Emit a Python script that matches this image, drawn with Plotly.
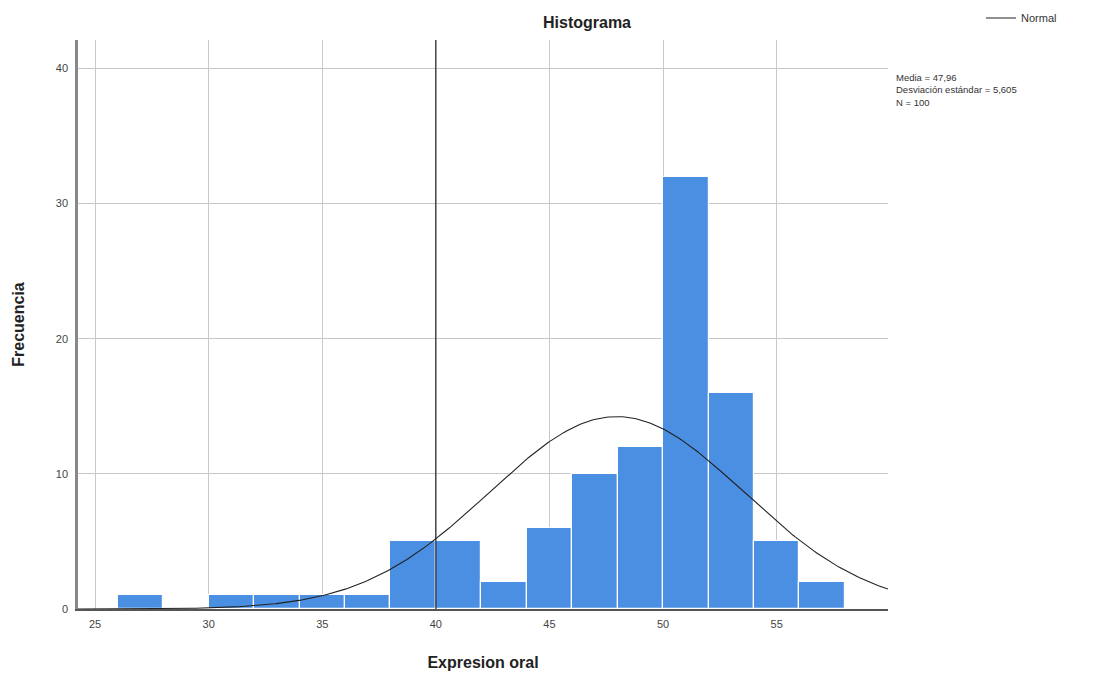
import math
import plotly.graph_objects as go

# Data
bin_left = [26, 28, 30, 32, 34, 36, 38, 40, 42, 44, 46, 48, 50, 52, 54, 56]
counts = [1, 0, 1, 1, 1, 1, 5, 5, 2, 6, 10, 12, 32, 16, 5, 2]
bin_width = 2
media = 47.96
desv = 5.605
n_total = 100
x_ticks = [25, 30, 35, 40, 45, 50, 55]
y_ticks = [0, 10, 20, 30, 40]
ref_line_x = 40

W, H = 1095, 680
OFF = 8  # page body margin offset
L, R, T, B = 78 - OFF, 207 + OFF, 40 - OFF, 71 + OFF
x_range = [24.25, 59.9]
y_range = [0, 42.1]

centers = [b + bin_width / 2 for b in bin_left]

# Normal curve from stated mean / sd / N
steps = 400
xs = [x_range[0] + (x_range[1] - x_range[0]) * i / steps for i in range(steps + 1)]
ys = [n_total * bin_width / (desv * math.sqrt(2 * math.pi)) * math.exp(-0.5 * ((x - media) / desv) ** 2) for x in xs]

fig = go.Figure()
fig.add_trace(go.Bar(
    x=centers, y=counts, width=[bin_width] * len(centers),
    marker=dict(color="#4a8fe2", line=dict(color="white", width=1.2)),
    showlegend=False, hoverinfo="x+y",
))
fig.add_trace(go.Scatter(
    x=xs, y=ys, mode="lines", name="Normal",
    line=dict(color="#222222", width=1.1),
))

fig.add_shape(type="line", xref="x", yref="paper", x0=ref_line_x, x1=ref_line_x, y0=0, y1=1,
              line=dict(color="#222222", width=1.2), layer="above")

fig.update_layout(
    width=W, height=H,
    margin=dict(l=L, r=R, t=T, b=B, autoexpand=False),
    plot_bgcolor="white", paper_bgcolor="white",
    font=dict(family="Liberation Sans, Arial, sans-serif", color="#333333"),
    bargap=0,
    title=dict(text="<b>Histograma</b>", x=(587 - OFF) / W, xanchor="center",
               y=1 - (22 - OFF) / H, yanchor="middle",
               font=dict(size=16, color="#222222")),
    xaxis=dict(range=x_range, tickvals=x_ticks, showgrid=True, gridcolor="#c8c8c8", gridwidth=1,
               zeroline=False, showline=True, linecolor="#555555", linewidth=1.5, automargin=False,
               ticks="", tickfont=dict(size=11, color="#444444"), ticklabelstandoff=4,
               title=dict(text="<b>Expresion oral</b>", font=dict(size=16, color="#222222"), standoff=28)),
    yaxis=dict(range=y_range, tickvals=y_ticks, showgrid=True, gridcolor="#c8c8c8", gridwidth=1,
               zeroline=False, showline=True, linecolor="#888888", linewidth=2.5, automargin=False,
               ticks="", tickfont=dict(size=11, color="#444444"), ticklabelstandoff=5,
               title=dict(text="<b>Frecuencia</b>", font=dict(size=16, color="#222222"), standoff=28)),
    legend=dict(xref="container", yref="container", x=(981 - OFF) / W, y=1 - (18 - OFF) / H,
                xanchor="left", yanchor="middle",
                bgcolor="rgba(0,0,0,0)", font=dict(size=11, color="#333333"), itemwidth=30),
    showlegend=True,
)

fig.add_annotation(
    xref="paper", yref="paper",
    x=(894 - L - OFF) / (W - L - R), y=1 - (70 - T - OFF) / (H - T - B),
    xanchor="left", yanchor="top", align="left", showarrow=False,
    text="Media = 47,96<br>Desviación estándar = 5,605<br>N = 100",
    font=dict(size=9.5, color="#333333"),
)

fig.write_html("out.html")
